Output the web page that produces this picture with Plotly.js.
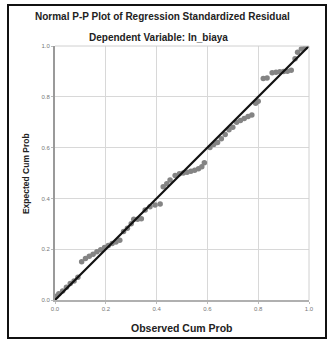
<!DOCTYPE html>
<html>
<head>
<meta charset="utf-8">
<script src="https://cdn.plot.ly/plotly-3.0.1.min.js"></script>
<style>
  html, body { margin: 0; padding: 0; background: #fff; }
  #wrap { position: relative; width: 333px; height: 340px; }
  #chart { position: absolute; left: 0; top: 0; width: 333px; height: 340px; }
  #frame { position: absolute; left: 7px; top: 4px; width: 320px; height: 335px;
           box-sizing: border-box; border: 2px solid #111; pointer-events: none; }
</style>
</head>
<body>
<div id="wrap">
  <div id="chart"></div>
  <div id="frame"></div>
</div>
<script>
// Observed cumulative probability (x) and expected cumulative probability (y)
const observedCumProb = [
  0.005, 0.015, 0.03, 0.045, 0.06, 0.075, 0.09,
  0.105, 0.12, 0.135, 0.15, 0.165, 0.18, 0.195, 0.21, 0.225, 0.24, 0.255,
  0.27, 0.285, 0.30, 0.31, 0.325, 0.34, 0.355, 0.374, 0.394, 0.414,
  0.426, 0.44, 0.453, 0.473, 0.49, 0.505, 0.52, 0.535, 0.55, 0.565, 0.578, 0.588,
  0.61, 0.625, 0.64, 0.655, 0.67, 0.685, 0.70, 0.715, 0.73, 0.745, 0.76, 0.775, 0.79, 0.80,
  0.82, 0.835, 0.855, 0.87, 0.885, 0.90, 0.915, 0.93, 0.945, 0.955, 0.97, 0.985
];
const expectedCumProb = [
  0.015, 0.025, 0.035, 0.05, 0.065, 0.075, 0.09,
  0.151, 0.163, 0.172, 0.18, 0.19, 0.198, 0.207, 0.215, 0.222, 0.228, 0.235,
  0.27, 0.282, 0.30, 0.318, 0.318, 0.32, 0.354, 0.367, 0.374, 0.378,
  0.446, 0.458, 0.472, 0.49, 0.497, 0.50, 0.503, 0.507, 0.511, 0.517, 0.525, 0.54,
  0.60, 0.612, 0.62, 0.635, 0.652, 0.67, 0.68, 0.70, 0.707, 0.715, 0.722, 0.728, 0.775, 0.782,
  0.872, 0.874, 0.895, 0.897, 0.899, 0.90, 0.901, 0.905, 0.95, 0.975, 0.988, 0.995
];
const refLineX = [0, 1];
const refLineY = [0, 1];
const tickVals = [0, 0.2, 0.4, 0.6, 0.8, 1.0];
const tickText = ['0.0', '0.2', '0.4', '0.6', '0.8', '1.0'];

const mainTitle = 'Normal P-P Plot of Regression Standardized Residual';
const subTitle = 'Dependent Variable: ln_biaya';
const xTitle = 'Observed Cum Prob';
const yTitle = 'Expected Cum Prob';

const FONT = '"Liberation Sans", Arial, sans-serif';

const traces = [
  {
    x: observedCumProb, y: expectedCumProb,
    type: 'scatter', mode: 'markers',
    marker: { color: '#848484', size: 5.5, line: { width: 0 } },
    hoverinfo: 'none', showlegend: false
  },
  {
    x: refLineX, y: refLineY,
    type: 'scatter', mode: 'lines',
    line: { color: '#111', width: 2.2 },
    hoverinfo: 'none', showlegend: false
  }
];

const axisCommon = {
  range: [0, 1],
  tickvals: tickVals, ticktext: tickText,
  tickfont: { family: FONT, size: 6, color: '#777' },
  showgrid: true, gridcolor: '#d8d8d8', gridwidth: 1,
  zeroline: false,
  ticks: 'outside', ticklen: 2, tickcolor: '#bbb', tickwidth: 1,
  fixedrange: true
};

const layout = {
  width: 333, height: 340,
  margin: { l: 55, r: 24, t: 46, b: 40 },
  paper_bgcolor: '#fff', plot_bgcolor: '#fff',
  font: { family: FONT },
  xaxis: Object.assign({}, axisCommon, {
    showline: true, linecolor: '#b0b0b0', linewidth: 1.5
  }),
  yaxis: Object.assign({}, axisCommon, {
    showline: true, linecolor: '#9a9a9a', linewidth: 2
  }),
  shapes: [
    { type: 'line', xref: 'paper', yref: 'paper', x0: 1, x1: 1, y0: 0, y1: 1,
      line: { color: '#d0d0d0', width: 1 } },
    { type: 'line', xref: 'paper', yref: 'paper', x0: 0, x1: 1, y0: 1, y1: 1,
      line: { color: '#d0d0d0', width: 1 } }
  ],
  annotations: [
    { text: '<b>' + mainTitle + '</b>', xref: 'paper', yref: 'paper',
      x: 0.425, y: 1.118, xanchor: 'center', yanchor: 'middle', showarrow: false,
      font: { family: FONT, size: 10, color: '#222' } },
    { text: '<b>' + subTitle + '</b>', xref: 'paper', yref: 'paper',
      x: 0.409, y: 1.035, xanchor: 'center', yanchor: 'middle', showarrow: false,
      font: { family: FONT, size: 10, color: '#222' } },
    { text: '<b>' + xTitle + '</b>', xref: 'paper', yref: 'paper',
      x: 0.5, y: -0.11, xanchor: 'center', yanchor: 'middle', showarrow: false,
      font: { family: FONT, size: 10.5, color: '#222' } },
    { text: '<b>' + yTitle + '</b>', xref: 'paper', yref: 'paper',
      x: -0.114, y: 0.496, xanchor: 'center', yanchor: 'middle', showarrow: false,
      textangle: -90,
      font: { family: FONT, size: 8.5, color: '#222' } }
  ]
};

Plotly.newPlot('chart', traces, layout, { displayModeBar: false, staticPlot: true });
</script>
</body>
</html>
